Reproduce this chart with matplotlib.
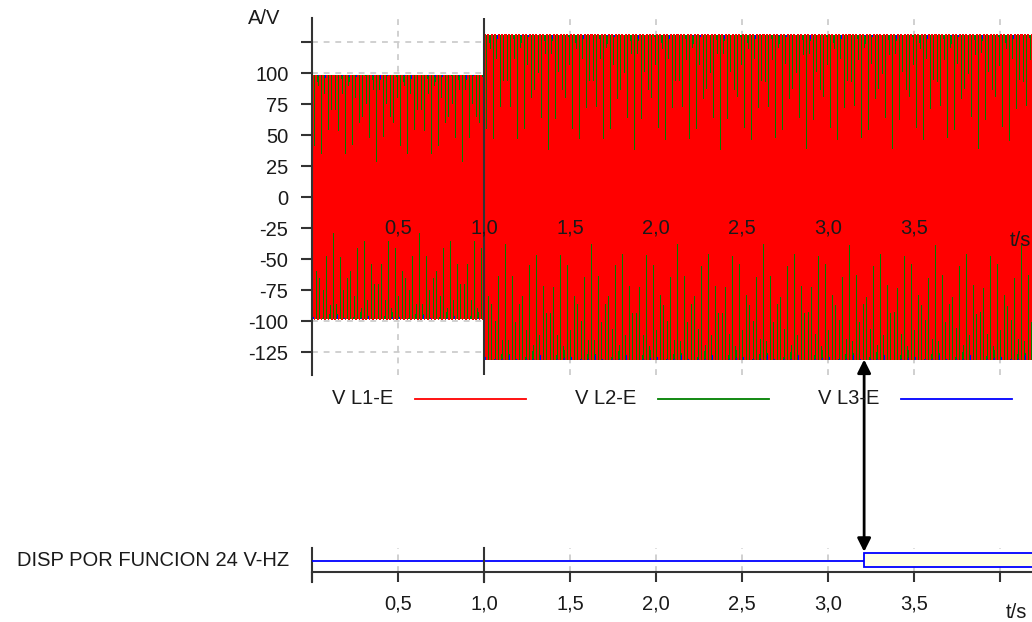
import numpy as np
import matplotlib
matplotlib.use("Agg")
import matplotlib.pyplot as plt
from matplotlib.lines import Line2D
from matplotlib.patches import Rectangle

plt.rcParams['font.family'] = ['Liberation Sans', 'DejaVu Sans']
plt.rcParams['path.simplify'] = False

# phase voltages: amplitude per segment, 50 Hz
seg_t = [0.0, 1.0, 4.19]
seg_amp = [98, 131]
freq = 50
fs = 1000
phase_names = ["V L1-E", "V L2-E", "V L3-E"]
phase_deg = [0, -120, 120]
phase_colors = ["red", "green", "blue"]

# trip signal "DISP POR FUNCION 24 V-HZ"
trip_t = [0.0, 3.21, 4.19]
trip_state = [0, 1]

xticks = [0.0, 0.5, 1.0, 1.5, 2.0, 2.5, 3.0, 3.5, 4.0]
xlabels = ["", "0,5", "1,0", "1,5", "2,0", "2,5", "3,0", "3,5", ""]
yticks = [-125, -100, -75, -50, -25, 0, 25, 50, 75, 100, 125]
event_t = 1.0
xmax = 4.186

W, H = 1032, 622
fig = plt.figure(figsize=(W / 100, H / 100), dpi=100)


def fx(px):
    return px / W


def fy(py):
    return 1 - py / H


FS = 14.5
txt = dict(fontsize=FS, color='#1a1a1a')
grid_kw = dict(color='#c8c8c8', lw=1.2, ls=(0, (3.5, 3.5)), zorder=0)

# ---------- top panel ----------
ax = fig.add_axes([fx(312), fy(375), fx(1032) - fx(312), fy(18) - fy(375)])
t = np.arange(seg_t[0], seg_t[-1], 1 / fs)
amp = np.zeros_like(t)
for i in range(len(seg_amp)):
    amp[(t >= seg_t[i]) & (t < seg_t[i + 1])] = seg_amp[i]
# blue first, red last (red on top)
for name, ph, c in list(zip(phase_names, phase_deg, phase_colors))[::-1]:
    ax.plot(t, amp * np.sin(2 * np.pi * freq * t + np.radians(ph)),
            color=c, lw=0.75, antialiased=False, zorder=2)

ax.set_xlim(0, xmax)
ax.set_ylim(-143.5, 144.4)
for s in ['top', 'right', 'bottom']:
    ax.spines[s].set_visible(False)
ax.spines['left'].set_color('#333333')
ax.spines['left'].set_linewidth(1.5)
ax.set_yticks(yticks)
ax.set_yticklabels([str(v) if v != 125 else "" for v in yticks])
ax.tick_params(axis='y', direction='out', length=8, width=1.5, color='#333333',
               pad=9, labelsize=FS, labelcolor='#1a1a1a')
ax.set_xticks([])
for v in yticks:
    ax.axhline(v, **grid_kw)
for x in xticks[1:]:
    if x != event_t:
        ax.axvline(x, **grid_kw)
ax.axvline(event_t, color='#333333', lw=1.5, zorder=5)
for x, lab in zip(xticks, xlabels):
    if lab:
        ax.text(x, -25, lab, ha='center', va='center', zorder=6, **txt)
ax.text(4.116, -34.7, "t/s", ha='center', va='center', zorder=6, **txt)
fig.text(fx(264), fy(18.5), "A/V", ha='center', va='center', **txt)

# legend
leg_text_x = [332, 575, 818]
for i, (name, c) in enumerate(zip(phase_names, phase_colors)):
    x0 = leg_text_x[i]
    fig.text(fx(x0), fy(398), name, ha='left', va='center', **txt)
    fig.add_artist(Line2D([fx(x0 + 83), fx(x0 + 194)], [fy(398.5), fy(398.5)],
                          color=c, lw=1.3))

# ---------- bottom panel ----------
axb = fig.add_axes([fx(312), fy(572), fx(1032) - fx(312), fy(548) - fy(572)])
axb.set_xlim(0, xmax)
axb.set_ylim(0, 1)
for s in ['top', 'right']:
    axb.spines[s].set_visible(False)
for s in ['left', 'bottom']:
    axb.spines[s].set_color('#333333')
    axb.spines[s].set_linewidth(1.5)
axb.spines['left'].set_bounds(-0.42, 1)
axb.set_yticks([])
axb.set_xticks(xticks)
axb.set_xticklabels(xlabels)
axb.tick_params(axis='x', direction='out', length=7.5, width=1.5, color='#333333',
                pad=9, labelsize=FS, labelcolor='#1a1a1a')
for x in xticks[1:]:
    if x != event_t:
        axb.axvline(x, **grid_kw)
axb.plot([event_t, event_t], [-0.42, 1], color='#333333', lw=1.5, clip_on=False, zorder=5)

low, hi0, hi1 = 0.46, 0.21, 0.79
for i, st in enumerate(trip_state):
    if st == 0:
        axb.plot([trip_t[i], trip_t[i + 1]], [low, low], color='blue', lw=1.3, zorder=3)
    else:
        axb.add_patch(Rectangle((trip_t[i], hi0), trip_t[i + 1] - trip_t[i], hi1 - hi0,
                                facecolor='#ffffe6', edgecolor='blue', lw=1.3, zorder=3))
fig.text(fx(1016), fy(612), "t/s", ha='center', va='center', **txt)
fig.text(fx(289), fy(560), "DISP POR FUNCION 24 V-HZ", ha='right', va='center', **txt)

# arrow linking the trip to the waveform
axb.annotate('', xy=(trip_t[1], hi1 + 0.05), xycoords='data',
             xytext=(trip_t[1], -131), textcoords=ax.transData,
             arrowprops=dict(arrowstyle='<|-|>', color='black', lw=2,
                             mutation_scale=20, shrinkA=0, shrinkB=0),
             annotation_clip=False)

fig.savefig("out.png", dpi=100)
